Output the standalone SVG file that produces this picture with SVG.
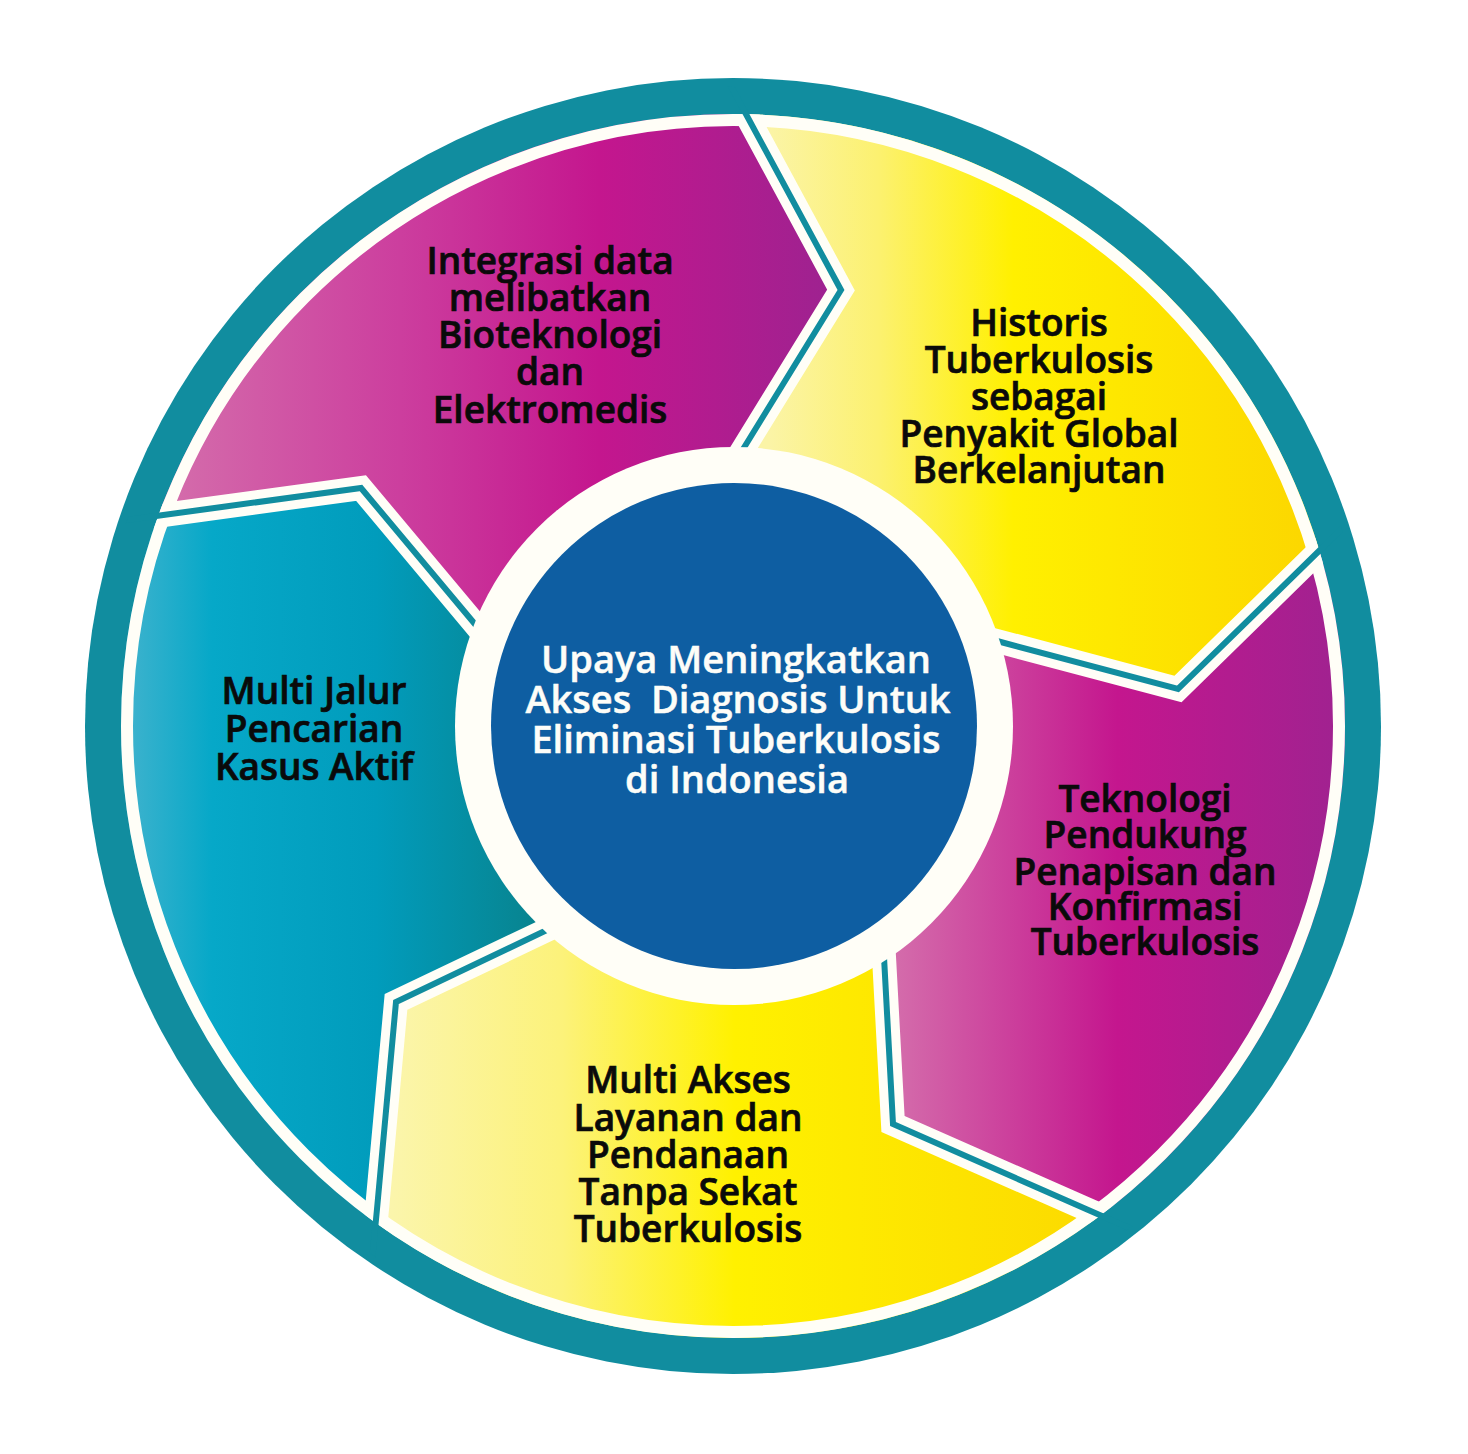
<svg xmlns="http://www.w3.org/2000/svg" width="1468" height="1454" viewBox="0 0 1468 1454">
  <style>
    .lbl { font-family: "Open Sans", "Noto Sans", "DejaVu Sans", sans-serif; font-weight: 600; font-size: 37px; fill: #0a0a0a; stroke: #0a0a0a; stroke-width: 0.7px; text-anchor: middle; }
    .ctr { font-family: "Open Sans", "Noto Sans", "DejaVu Sans", sans-serif; font-weight: 600; font-size: 38px; fill: #fdfdf8; stroke: #fdfdf8; stroke-width: 0.5px; text-anchor: middle; white-space: pre; }
    .divw { fill: none; stroke: #fffef7; stroke-width: 24; stroke-linejoin: miter; stroke-miterlimit: 10; }
    .divt { fill: none; stroke: #118d9f; stroke-width: 6; stroke-linejoin: miter; stroke-miterlimit: 10; }
  </style>
  <defs>
    <clipPath id="clipSeg"><circle cx="733" cy="726" r="612"/></clipPath>
    <clipPath id="clipTeal"><circle cx="733" cy="726" r="640"/></clipPath>
    <linearGradient id="gMag1" gradientUnits="userSpaceOnUse" x1="170" y1="0" x2="830" y2="0">
      <stop offset="0" stop-color="#d46cab"/>
      <stop offset="0.35" stop-color="#cc3e9e"/>
      <stop offset="0.65" stop-color="#c4168e"/>
      <stop offset="1" stop-color="#9e2290"/>
    </linearGradient>
    <linearGradient id="gYel1" gradientUnits="userSpaceOnUse" x1="770" y1="0" x2="1310" y2="0">
      <stop offset="0" stop-color="#fbf4a6"/>
      <stop offset="0.2" stop-color="#fcf170"/>
      <stop offset="0.45" stop-color="#fff000"/>
      <stop offset="1" stop-color="#fcd700"/>
    </linearGradient>
    <linearGradient id="gMag2" gradientUnits="userSpaceOnUse" x1="895" y1="0" x2="1340" y2="0">
      <stop offset="0" stop-color="#d46cab"/>
      <stop offset="0.5" stop-color="#c4168e"/>
      <stop offset="1" stop-color="#a02290"/>
    </linearGradient>
    <linearGradient id="gYel2" gradientUnits="userSpaceOnUse" x1="390" y1="0" x2="1080" y2="0">
      <stop offset="0" stop-color="#fbf5ac"/>
      <stop offset="0.25" stop-color="#fcf27a"/>
      <stop offset="0.5" stop-color="#fff100"/>
      <stop offset="1" stop-color="#fcdb00"/>
    </linearGradient>
    <linearGradient id="gTeal" gradientUnits="userSpaceOnUse" x1="130" y1="0" x2="540" y2="0">
      <stop offset="0" stop-color="#3cb2cd"/>
      <stop offset="0.2" stop-color="#06a8c8"/>
      <stop offset="0.6" stop-color="#019cbc"/>
      <stop offset="1" stop-color="#08838e"/>
    </linearGradient>
  </defs>

  <rect x="0" y="0" width="1468" height="1454" fill="#ffffff"/>
  <circle id="ring" cx="733" cy="726" r="648" fill="#118d9f"/>

  <g id="node-integrasi">
    <path clip-path="url(#clipSeg)" fill="url(#gMag1)" d="M733,726 L474,623 L361,488 L156,516 L53,530 L0,530 L0,0 L719,0 L719,64 L747,116 L841,290 L745,446 Z"/>
    <text class="lbl"><tspan x="550" y="274">Integrasi data</tspan><tspan x="550" y="311">melibatkan</tspan><tspan x="550" y="348">Bioteknologi</tspan><tspan x="550" y="385">dan</tspan><tspan x="550" y="423">Elektromedis</tspan></text>
  </g>

  <g id="node-historis">
    <path clip-path="url(#clipSeg)" fill="url(#gYel1)" d="M733,726 L745,446 L841,290 L747,116 L719,64 L719,0 L1468,0 L1468,508 L1363,508 L1320,550 L1178,689 L997,641 Z"/>
    <text class="lbl"><tspan x="1039" y="336">Historis</tspan><tspan x="1039" y="373">Tuberkulosis</tspan><tspan x="1039" y="410">sebagai</tspan><tspan x="1039" y="447">Penyakit Global</tspan><tspan x="1039" y="483">Berkelanjutan</tspan></text>
  </g>

  <g id="node-teknologi">
    <path clip-path="url(#clipSeg)" fill="url(#gMag2)" d="M733,726 L997,641 L1178,689 L1320,550 L1363,508 L1468,508 L1468,1454 L1182,1454 L1182,1251 L1086,1209 L893,1124 L884,957 Z"/>
    <text class="lbl"><tspan x="1145" y="812">Teknologi</tspan><tspan x="1145" y="848">Pendukung</tspan><tspan x="1145" y="885">Penapisan dan</tspan><tspan x="1145" y="920">Konfirmasi</tspan><tspan x="1145" y="955">Tuberkulosis</tspan></text>
  </g>

  <g id="node-multi-akses">
    <path clip-path="url(#clipSeg)" fill="url(#gYel2)" d="M733,726 L884,957 L893,1124 L1086,1209 L1182,1251 L1182,1454 L367,1454 L367,1313 L377,1209 L396,1002 L549,929 Z"/>
    <text class="lbl"><tspan x="688" y="1093">Multi Akses</tspan><tspan x="688" y="1131">Layanan dan</tspan><tspan x="688" y="1168">Pendanaan</tspan><tspan x="688" y="1205">Tanpa Sekat</tspan><tspan x="688" y="1242">Tuberkulosis</tspan></text>
  </g>

  <g id="node-multi-jalur">
    <path clip-path="url(#clipSeg)" fill="url(#gTeal)" d="M733,726 L549,929 L396,1002 L377,1209 L367,1313 L0,1313 L0,530 L53,530 L156,516 L361,488 L474,623 Z"/>
    <text class="lbl"><tspan x="314" y="704">Multi Jalur</tspan><tspan x="314" y="742">Pencarian</tspan><tspan x="314" y="780">Kasus Aktif</tspan></text>
  </g>

  <circle id="outer-white-edge" cx="733" cy="726" r="606" fill="none" stroke="#fffef7" stroke-width="12"/>

  <g id="connectors">
    <g clip-path="url(#clipSeg)">
      <polyline class="divw" points="719,64 747,116 841,290 745,446 716,493"/>
      <polyline class="divw" points="1363,508 1320,550 1178,689 997,641 943,627"/>
      <polyline class="divw" points="1182,1251 1086,1209 893,1124 884,957 881,907"/>
      <polyline class="divw" points="367,1313 377,1209 396,1002 549,929 595,907"/>
      <polyline class="divw" points="53,530 156,516 361,488 474,623 508,664"/>
    </g>
    <g clip-path="url(#clipTeal)">
      <polyline class="divt" points="719,64 747,116 841,290 745,446 716,493"/>
      <polyline class="divt" points="1363,508 1320,550 1178,689 997,641 943,627"/>
      <polyline class="divt" points="1182,1251 1086,1209 893,1124 884,957 881,907"/>
      <polyline class="divt" points="367,1313 377,1209 396,1002 549,929 595,907"/>
      <polyline class="divt" points="53,530 156,516 361,488 474,623 508,664"/>
    </g>
  </g>

  <g id="node-center">
    <circle cx="734" cy="726" r="279" fill="#fffef7"/>
    <circle cx="734" cy="726" r="243" fill="#0e5ea2"/>
    <text class="ctr"><tspan x="736" y="673">Upaya Meningkatkan</tspan><tspan x="738" y="713">Akses  Diagnosis Untuk</tspan><tspan x="736" y="753">Eliminasi Tuberkulosis</tspan><tspan x="737" y="793">di Indonesia</tspan></text>
  </g>
</svg>
